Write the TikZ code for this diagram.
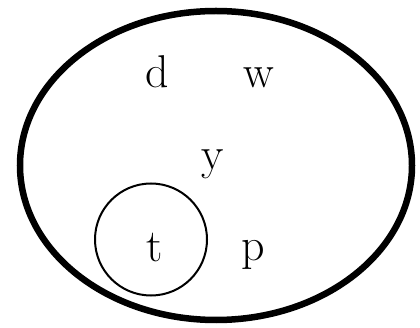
\documentclass[tikz,border=0pt]{standalone}
\begin{document}
\begin{tikzpicture}[x=1pt,y=-1pt,
  lbl/.style={inner sep=0pt,anchor=base,font=\fontsize{46}{50}\selectfont}]
\useasboundingbox (0,0) rectangle (420,328);
\draw[line width=6.5pt] (216,165.5) ellipse [x radius=196, y radius=154.5];
\draw[line width=2pt] (151,239.5) circle [radius=56];
\node[lbl] (d) at (157.5,88) {d};
\node[lbl] (w) at (258.5,88) {w};
\node[lbl] (y) at (212.5,170) {y};
\node[lbl] (t) at (154.5,262) {t};
\node[lbl] (p) at (253.5,261) {p};
\end{tikzpicture}
\end{document}
